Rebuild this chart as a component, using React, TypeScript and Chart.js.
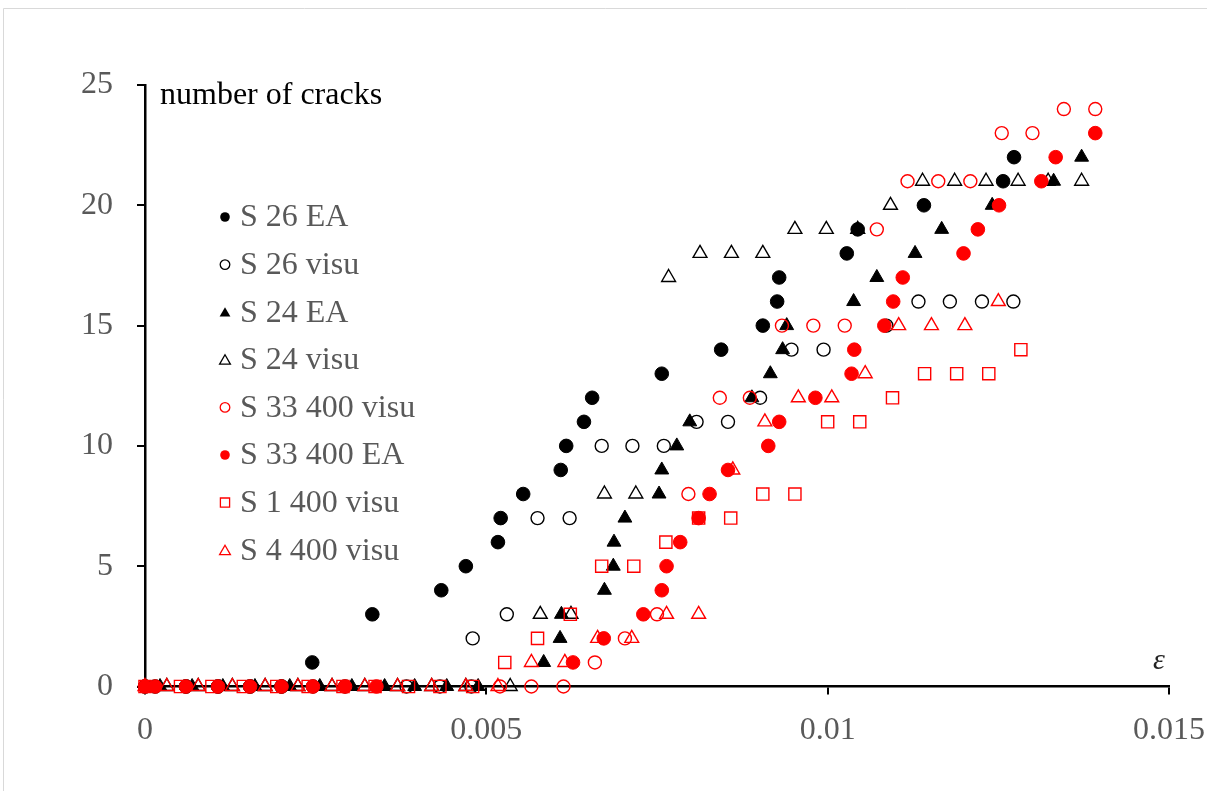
import React, { useEffect, useRef } from 'react';
import { Chart, registerables } from 'chart.js';

Chart.register(...registerables);

// ---------- data ----------
const seriesNames = ['S 26 EA', 'S 26 visu', 'S 24 EA', 'S 24 visu', 'S 33 400 visu', 'S 33 400 EA', 'S 1 400 visu', 'S 4 400 visu'];

const s26EA_x = [0, 0.00015, 0.0006, 0.00107, 0.00154, 0.002, 0.00245, 0.00333, 0.00434, 0.0047, 0.00517, 0.00521, 0.00554, 0.00609, 0.00617, 0.00643, 0.00655, 0.00757, 0.00844, 0.00905, 0.00926, 0.00929, 0.01028, 0.01044, 0.01141, 0.01257, 0.01273];
const s26EA_y = [0, 0, 0, 0, 0, 0, 1, 3, 4, 5, 6, 7, 8, 9, 10, 11, 12, 13, 14, 15, 16, 17, 18, 19, 20, 21, 22];

const s26visu_x = [0, 0.0006, 0.00107, 0.00154, 0.002, 0.00246, 0.00293, 0.00383, 0.00432, 0.00478, 0.0048, 0.0053, 0.00575, 0.00622, 0.00669, 0.00714, 0.0076, 0.00808, 0.00854, 0.00901, 0.00947, 0.00994, 0.01086, 0.01133, 0.01179, 0.01226, 0.01272];
const s26visu_y = [0, 0, 0, 0, 0, 0, 0, 0, 0, 0, 2, 3, 7, 7, 10, 10, 10, 11, 11, 12, 14, 14, 15, 16, 16, 16, 16];

const s24EA_x = [0.00022, 0.00069, 0.00114, 0.00161, 0.00212, 0.00256, 0.00303, 0.00351, 0.00395, 0.00442, 0.00488, 0.00584, 0.00608, 0.0061, 0.00673, 0.00686, 0.00687, 0.00703, 0.00753, 0.00757, 0.00779, 0.00798, 0.00889, 0.00916, 0.00934, 0.0094, 0.01038, 0.01072, 0.01128, 0.01167, 0.01241, 0.01331, 0.01372];
const s24EA_y = [0, 0, 0, 0, 0, 0, 0, 0, 0, 0, 0, 1, 2, 3, 4, 5, 6, 7, 8, 9, 10, 11, 12, 13, 14, 15, 16, 17, 18, 19, 20, 21, 22];

const s24visu_x = [0.00032, 0.00078, 0.00128, 0.00176, 0.00224, 0.00274, 0.00322, 0.0037, 0.0042, 0.0047, 0.00535, 0.00579, 0.00624, 0.00673, 0.00719, 0.00767, 0.00813, 0.00859, 0.00905, 0.00952, 0.00998, 0.01044, 0.01092, 0.01139, 0.01186, 0.01232, 0.01279, 0.01323, 0.01372];
const s24visu_y = [0, 0, 0, 0, 0, 0, 0, 0, 0, 0, 0, 3, 3, 8, 8, 17, 18, 18, 18, 19, 19, 19, 20, 21, 21, 21, 21, 21, 21];

const s33visu_x = [0.0052, 0.00566, 0.00613, 0.00659, 0.00703, 0.0075, 0.00796, 0.00842, 0.00886, 0.00933, 0.00979, 0.01025, 0.01072, 0.01117, 0.01162, 0.01209, 0.01255, 0.013, 0.01346, 0.01392];
const s33visu_y = [0, 0, 0, 1, 2, 3, 8, 12, 12, 15, 15, 15, 19, 21, 21, 21, 23, 23, 24, 24];

const s33EA_x = [0, 0.00015, 0.0006, 0.00107, 0.00154, 0.002, 0.00246, 0.00293, 0.00339, 0.00627, 0.00672, 0.0073, 0.00757, 0.00764, 0.00784, 0.00811, 0.00827, 0.00854, 0.00913, 0.00929, 0.00982, 0.01035, 0.01039, 0.01083, 0.01096, 0.0111, 0.01199, 0.0122, 0.01251, 0.01313, 0.01334, 0.01392];
const s33EA_y = [0, 0, 0, 0, 0, 0, 0, 0, 0, 1, 2, 3, 4, 5, 6, 7, 8, 9, 10, 11, 12, 13, 14, 15, 16, 17, 18, 19, 20, 21, 22, 23];

const s1visu_x = [0, 0.00052, 0.00098, 0.00144, 0.00193, 0.00239, 0.0029, 0.00337, 0.00386, 0.00432, 0.0048, 0.00527, 0.00575, 0.00623, 0.00669, 0.00716, 0.00763, 0.00811, 0.00858, 0.00905, 0.00952, 0.01, 0.01047, 0.01095, 0.01142, 0.01189, 0.01236, 0.01283];
const s1visu_y = [0, 0, 0, 0, 0, 0, 0, 0, 0, 0, 0, 1, 2, 3, 5, 5, 6, 7, 7, 8, 8, 11, 11, 12, 13, 13, 13, 14];

const s4visu_x = [0, 0.00032, 0.00078, 0.00128, 0.00176, 0.00224, 0.00274, 0.00322, 0.0037, 0.0042, 0.0047, 0.00517, 0.00566, 0.00615, 0.00663, 0.00713, 0.00764, 0.00811, 0.00861, 0.00908, 0.00957, 0.01006, 0.01055, 0.01104, 0.01152, 0.01201, 0.0125];
const s4visu_y = [0, 0, 0, 0, 0, 0, 0, 0, 0, 0, 0, 0, 1, 1, 2, 2, 3, 3, 9, 11, 12, 12, 13, 15, 15, 15, 16];

const seriesX = [s26EA_x, s26visu_x, s24EA_x, s24visu_x, s33visu_x, s33EA_x, s1visu_x, s4visu_x];
const seriesY = [s26EA_y, s26visu_y, s24EA_y, s24visu_y, s33visu_y, s33EA_y, s1visu_y, s4visu_y];

const xTickValues = [0, 0.005, 0.01, 0.015];
const xTickLabels = ['0', '0.005', '0.01', '0.015'];
const yTickValues = [0, 5, 10, 15, 20, 25];
const yTickLabels = ['0', '5', '10', '15', '20', '25'];
const yAxisTitle = 'number of cracks';
const xAxisTitle = 'ε';

// ---------- styles ----------
const BLACK = '#000000';
const RED = '#FF0000';
const GREY = '#595959';
const FONT = '"Liberation Serif", "Times New Roman", serif';

type Shape = 'circle' | 'triangle' | 'rect';
const markerStyles: { shape: Shape; color: string; filled: boolean }[] = [
  { shape: 'circle', color: BLACK, filled: true },
  { shape: 'circle', color: BLACK, filled: false },
  { shape: 'triangle', color: BLACK, filled: true },
  { shape: 'triangle', color: BLACK, filled: false },
  { shape: 'circle', color: RED, filled: false },
  { shape: 'circle', color: RED, filled: true },
  { shape: 'rect', color: RED, filled: false },
  { shape: 'triangle', color: RED, filled: false },
];

function radiusFor(shape: Shape, filled: boolean) {
  if (shape === 'circle') return filled ? 6.8 : 6.5;
  if (shape === 'triangle') return 8;
  return 8.6;
}

function drawLegendMarker(ctx: CanvasRenderingContext2D, shape: Shape, color: string, filled: boolean, x: number, y: number) {
  ctx.save();
  ctx.beginPath();
  if (shape === 'circle') {
    ctx.arc(x, y, 4.8, 0, Math.PI * 2);
  } else if (shape === 'triangle') {
    ctx.moveTo(x, y - 5);
    ctx.lineTo(x + 5.4, y + 4.4);
    ctx.lineTo(x - 5.4, y + 4.4);
    ctx.closePath();
  } else {
    ctx.rect(x - 4.6, y - 4.6, 9.2, 9.2);
  }
  if (filled) {
    ctx.fillStyle = color;
    ctx.fill();
  } else {
    ctx.lineWidth = 1.3;
    ctx.strokeStyle = color;
    ctx.stroke();
  }
  ctx.restore();
}

const backgroundPlugin = {
  id: 'bgPlugin',
  beforeDraw(chart: any) {
    const ctx = chart.ctx as CanvasRenderingContext2D;
    ctx.save();
    ctx.fillStyle = '#ffffff';
    ctx.fillRect(0, 0, chart.width, chart.height);
    ctx.strokeStyle = '#d9d9d9';
    ctx.lineWidth = 1;
    ctx.beginPath();
    ctx.moveTo(3.5, chart.height);
    ctx.lineTo(3.5, 8.5);
    ctx.lineTo(chart.width, 8.5);
    ctx.stroke();
    ctx.restore();
  },
};

const annotationPlugin = {
  id: 'annotationPlugin',
  afterDraw(chart: any) {
    const ctx = chart.ctx as CanvasRenderingContext2D;
    ctx.save();
    ctx.textAlign = 'left';
    ctx.textBaseline = 'middle';
    ctx.fillStyle = BLACK;
    ctx.font = `32px ${FONT}`;
    ctx.fillText(yAxisTitle, 160, 96);
    ctx.font = `italic 30px ${FONT}`;
    ctx.fillStyle = '#222222';
    ctx.fillText(xAxisTitle, 1153, 661);
    seriesNames.forEach((name, i) => {
      const y = 217 + i * 47.6;
      const st = markerStyles[i];
      drawLegendMarker(ctx, st.shape, st.color, st.filled, 225, y);
      ctx.font = `32px ${FONT}`;
      ctx.fillStyle = GREY;
      ctx.fillText(name, 240, y + 1);
    });
    ctx.restore();
  },
};

export default function App() {
  const canvasRef = useRef<HTMLCanvasElement | null>(null);

  useEffect(() => {
    if (!canvasRef.current) return;
    const datasets = seriesNames.map((name, i) => {
      const st = markerStyles[i];
      return {
        label: name,
        data: seriesX[i].map((x, j) => ({ x, y: seriesY[i][j] })),
        showLine: false,
        pointStyle: st.shape,
        pointRadius: radiusFor(st.shape, st.filled),
        pointHoverRadius: radiusFor(st.shape, st.filled),
        pointBackgroundColor: st.filled ? st.color : 'rgba(0,0,0,0)',
        pointBorderColor: st.color,
        pointBorderWidth: st.filled ? 1 : 1.4,
        backgroundColor: st.filled ? st.color : 'rgba(0,0,0,0)',
        borderColor: st.color,
        order: seriesNames.length - i,
        clip: false as any,
      };
    });

    const chart = new Chart(canvasRef.current, {
      type: 'scatter',
      data: { datasets },
      plugins: [backgroundPlugin, annotationPlugin],
      options: {
        animation: false,
        responsive: false,
        maintainAspectRatio: false,
        events: [],
        layout: { padding: { top: 85, right: 38, left: 0, bottom: 0 } },
        plugins: { legend: { display: false }, tooltip: { enabled: false }, title: { display: false } },
        scales: {
          x: {
            type: 'linear',
            min: 0,
            max: 0.015,
            afterBuildTicks: (scale: any) => {
              scale.ticks = xTickValues.map((v) => ({ value: v }));
            },
            afterFit: (scale: any) => {
              scale.height = 791 - 686.5;
              scale.paddingLeft = 0;
              scale.paddingRight = 0;
            },
            ticks: {
              color: GREY,
              font: { family: FONT, size: 32 },
              padding: 17,
              maxRotation: 0,
              autoSkip: false,
              callback: (v: any) => {
                const idx = xTickValues.findIndex((t) => Math.abs(t - Number(v)) < 1e-9);
                return idx >= 0 ? xTickLabels[idx] : '';
              },
            },
            grid: { drawOnChartArea: false, drawTicks: true, tickLength: 8, color: BLACK, lineWidth: 2 },
            border: { display: true, color: BLACK, width: 2.5 },
          },
          y: {
            type: 'linear',
            min: 0,
            max: 25,
            afterBuildTicks: (scale: any) => {
              scale.ticks = yTickValues.map((v) => ({ value: v }));
            },
            afterFit: (scale: any) => {
              scale.width = 145;
              scale.paddingTop = 0;
              scale.paddingBottom = 0;
            },
            ticks: {
              color: GREY,
              font: { family: FONT, size: 32 },
              padding: 24,
              autoSkip: false,
              callback: (v: any) => {
                const idx = yTickValues.findIndex((t) => Math.abs(t - Number(v)) < 1e-9);
                return idx >= 0 ? yTickLabels[idx] : '';
              },
            },
            grid: { drawOnChartArea: false, drawTicks: true, tickLength: 8, color: BLACK, lineWidth: 2 },
            border: { display: true, color: BLACK, width: 2.5 },
          },
        },
      } as any,
    });
    return () => chart.destroy();
  }, []);

  return (
    <div style={{ position: 'absolute', left: 0, top: 0, width: 1207, height: 791, background: '#fff' }}>
      <canvas ref={canvasRef} width={1207} height={791} style={{ width: 1207, height: 791, display: 'block' }} />
    </div>
  );
}
